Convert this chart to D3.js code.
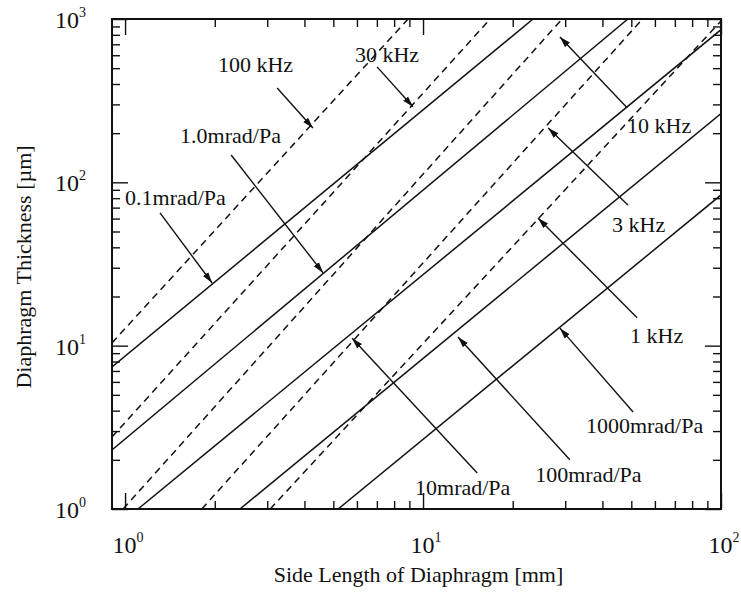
<!DOCTYPE html>
<html>
<head>
<meta charset="utf-8">
<script src="https://cdn.jsdelivr.net/npm/d3@7"></script>
<style>
  body { margin: 0; background: #fff; }
  text { font-family: "Liberation Serif", "Times New Roman", serif; fill: #111; }
</style>
</head>
<body>
<div id="chart"></div>
<script>
// resonance frequency lines (dashed), endpoints [side length mm, thickness um]
const freqNames = ["100 kHz", "30 kHz", "10 kHz", "3 kHz", "1 kHz"];
const freqStart = [[0.904, 10.4], [0.904, 2.76], [0.985, 1], [1.81, 1], [3.07, 1]];
const freqEnd   = [[8.91, 1000], [16.8, 1000], [29.3, 1000], [54.5, 1000], [100, 973]];

// sensitivity lines (solid)
const sensNames = ["0.1mrad/Pa", "1.0mrad/Pa", "10mrad/Pa", "100mrad/Pa", "1000mrad/Pa"];
const sensStart = [[0.904, 7.41], [0.904, 2.30], [1.105, 1], [2.43, 1], [5.19, 1]];
const sensEnd   = [[23.4, 1000], [48.7, 1000], [100, 860], [100, 264], [100, 83.7]];

// annotations: text position (left, baseline) and arrow tail -> head, data units
const noteText = ["100 kHz", "30 kHz", "1.0mrad/Pa", "0.1mrad/Pa", "10 kHz",
                  "3 kHz", "1 kHz", "1000mrad/Pa", "100mrad/Pa", "10mrad/Pa"];
const noteAt   = [[2.05, 474], [5.91, 546], [1.53, 174], [1.0, 72.7], [48.4, 201],
                  [43.1, 49.7], [49.5, 10.4], [35.2, 2.92], [23.8, 1.46], [9.4, 1.22]];
const noteTail = [[3.24, 378], [7.01, 509], [2.27, 147], [1.31, 65], [48.4, 286],
                  [48.7, 72.7], [52.3, 14.8], [50.7, 3.93], [31.1, 2.0], [15.2, 1.66]];
const noteHead = [[4.27, 215], [9.25, 290], [4.62, 27.9], [1.96, 24.2], [28.8, 777],
                  [26.3, 215], [24.3, 60.5], [28.8, 12.8], [13.1, 11.3], [5.78, 11.1]];

const xTicks = [1, 2, 3, 4, 5, 6, 7, 8, 9, 10, 20, 30, 40, 50, 60, 70, 80, 90, 100];
const yTicks = [1, 2, 3, 4, 5, 6, 7, 8, 9, 10, 20, 30, 40, 50, 60, 70, 80, 90,
                100, 200, 300, 400, 500, 600, 700, 800, 900, 1000];
const xMajor = [1, 10, 100];
const yMajor = [1, 10, 100, 1000];

const width = 741, height = 595;
const mLeft = 112, mRight = 721, mTop = 19, mBottom = 509;

const svg = d3.select("#chart").append("svg")
    .attr("width", width)
    .attr("height", height);

const x = d3.scaleLog().domain([0.904, 100]).range([mLeft, mRight]);
const y = d3.scaleLog().domain([1, 1000]).range([mBottom, mTop]);

const defs = svg.append("defs");
defs.append("clipPath").attr("id", "plot")
  .append("rect")
    .attr("x", mLeft).attr("y", mTop)
    .attr("width", mRight - mLeft).attr("height", mBottom - mTop);

defs.append("marker")
    .attr("id", "head")
    .attr("viewBox", "0 -5 10 10")
    .attr("refX", 10)
    .attr("refY", 0)
    .attr("markerUnits", "userSpaceOnUse")
    .attr("markerWidth", 11)
    .attr("markerHeight", 11)
    .attr("orient", "auto")
  .append("path")
    .attr("d", "M0,-3L10,0L0,3Z")
    .style("fill", "#111");

const isMajor = (list) => (d) => list.indexOf(d) >= 0;

// axes, ticks pointing inward on all four sides
function tickLen(list, sign) {
  return (d) => sign * (isMajor(list)(d) ? 16 : 8);
}

let gb = svg.append("g").attr("transform", `translate(0,${mBottom})`)
    .call(d3.axisBottom(x).tickValues(xTicks).tickFormat("").tickSizeOuter(0));
gb.selectAll(".tick line").attr("y2", tickLen(xMajor, -1));

let gt = svg.append("g").attr("transform", `translate(0,${mTop})`)
    .call(d3.axisTop(x).tickValues(xTicks).tickFormat("").tickSizeOuter(0));
gt.selectAll(".tick line").attr("y2", tickLen(xMajor, 1));

let gl = svg.append("g").attr("transform", `translate(${mLeft},0)`)
    .call(d3.axisLeft(y).tickValues(yTicks).tickFormat("").tickSizeOuter(0));
gl.selectAll(".tick line").attr("x2", tickLen(yMajor, 1));

let gr = svg.append("g").attr("transform", `translate(${mRight},0)`)
    .call(d3.axisRight(y).tickValues(yTicks).tickFormat("").tickSizeOuter(0));
gr.selectAll(".tick line").attr("x2", tickLen(yMajor, -1));

svg.selectAll(".tick line").style("stroke", "#111").style("stroke-width", 1.4);
svg.selectAll(".domain").remove();

svg.append("rect")
    .attr("x", mLeft).attr("y", mTop)
    .attr("width", mRight - mLeft).attr("height", mBottom - mTop)
    .style("fill", "none")
    .style("stroke", "#111")
    .style("stroke-width", 2);

// tick labels 10^n
function powLabel(sel) {
  sel.append("tspan").text("10");
  sel.append("tspan")
      .attr("dy", -11)
      .style("font-size", "14px")
      .text((d) => Math.round(Math.log10(d)));
}

svg.append("g").selectAll("text")
  .data(xMajor)
  .enter().append("text")
    .attr("x", (d) => x(d) + 3)
    .attr("y", mBottom + 44)
    .attr("text-anchor", "middle")
    .style("font-size", "24px")
    .call(powLabel);

svg.append("g").selectAll("text")
  .data(yMajor)
  .enter().append("text")
    .attr("x", 86)
    .attr("y", (d) => y(d) + 9)
    .attr("text-anchor", "end")
    .style("font-size", "24px")
    .call(powLabel);

svg.append("text")
    .attr("x", (mLeft + mRight) / 2 + 2)
    .attr("y", 582)
    .attr("text-anchor", "middle")
    .style("font-size", "22px")
    .text("Side Length of Diaphragm [mm]");

svg.append("text")
    .attr("transform", `translate(31,${(mTop + mBottom) / 2 + 3}) rotate(-90)`)
    .attr("text-anchor", "middle")
    .style("font-size", "22px")
    .text("Diaphragm Thickness [\u00b5m]");

// lines
let plot = svg.append("g").attr("clip-path", "url(#plot)");

plot.selectAll("line.freq")
  .data(freqNames)
  .enter().append("line")
    .attr("class", "freq")
    .attr("x1", (d, i) => x(freqStart[i][0]))
    .attr("y1", (d, i) => y(freqStart[i][1]))
    .attr("x2", (d, i) => x(freqEnd[i][0]))
    .attr("y2", (d, i) => y(freqEnd[i][1]))
    .style("stroke", "#111")
    .style("stroke-width", 1.5)
    .style("stroke-dasharray", "7,5");

plot.selectAll("line.sens")
  .data(sensNames)
  .enter().append("line")
    .attr("class", "sens")
    .attr("x1", (d, i) => x(sensStart[i][0]))
    .attr("y1", (d, i) => y(sensStart[i][1]))
    .attr("x2", (d, i) => x(sensEnd[i][0]))
    .attr("y2", (d, i) => y(sensEnd[i][1]))
    .style("stroke", "#111")
    .style("stroke-width", 1.5);

// annotations
let notes = svg.append("g");

notes.selectAll("line")
  .data(noteText)
  .enter().append("line")
    .attr("x1", (d, i) => x(noteTail[i][0]))
    .attr("y1", (d, i) => y(noteTail[i][1]))
    .attr("x2", (d, i) => x(noteHead[i][0]))
    .attr("y2", (d, i) => y(noteHead[i][1]))
    .attr("marker-end", "url(#head)")
    .style("stroke", "#111")
    .style("stroke-width", 1.4);

notes.selectAll("text")
  .data(noteText)
  .enter().append("text")
    .attr("x", (d, i) => x(noteAt[i][0]))
    .attr("y", (d, i) => y(noteAt[i][1]))
    .style("font-size", "22px")
    .text((d) => d);
</script>
</body>
</html>
